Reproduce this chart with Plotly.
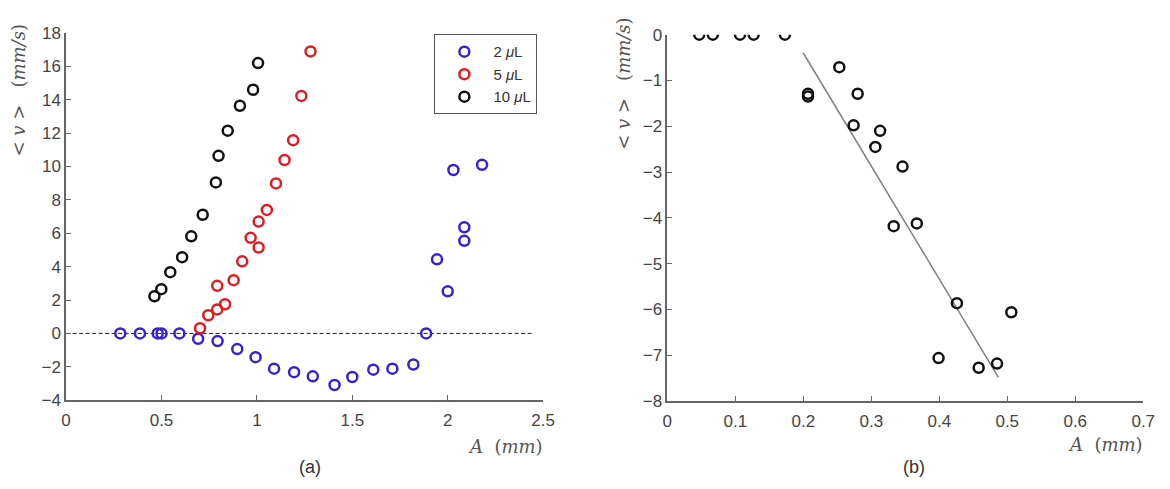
import plotly.graph_objects as go

# ---- Panel (a) data ----
a2_x = [0.284, 0.387, 0.48, 0.50, 0.594, 0.692, 0.794, 0.897, 0.993, 1.09, 1.195, 1.293,
        1.407, 1.50, 1.61, 1.71, 1.82, 1.887, 1.944, 2.0, 2.087, 2.087, 2.03, 2.18]
a2_y = [0, 0, 0, 0, 0, -0.32, -0.46, -0.94, -1.42, -2.11, -2.32, -2.57,
        -3.09, -2.61, -2.17, -2.11, -1.86, 0, 4.44, 2.52, 5.55, 6.36, 9.79, 10.1]

a5_x = [0.702, 0.745, 0.792, 0.792, 0.833, 0.878, 0.923, 0.967, 1.009, 1.009, 1.052,
        1.10, 1.145, 1.19, 1.233, 1.281]
a5_y = [0.31, 1.09, 1.44, 2.85, 1.75, 3.19, 4.32, 5.73, 5.15, 6.70, 7.40,
        8.99, 10.39, 11.58, 14.23, 16.9]

a10_x = [0.463, 0.499, 0.546, 0.608, 0.656, 0.716, 0.785, 0.799, 0.847, 0.911, 0.98, 1.006]
a10_y = [2.23, 2.65, 3.67, 4.57, 5.82, 7.11, 9.05, 10.64, 12.15, 13.64, 14.6, 16.2]

zero_x = [0, 2.45]
zero_y = [0, 0]

# ---- Panel (b) data ----
b_x = [0.047, 0.067, 0.107, 0.127, 0.173, 0.207, 0.207, 0.253, 0.28, 0.274, 0.313,
       0.306, 0.346, 0.333, 0.367, 0.426, 0.506, 0.399, 0.458, 0.485]
b_y = [0, 0, 0, 0, 0, -1.29, -1.35, -0.71, -1.29, -1.98, -2.10,
       -2.45, -2.88, -4.18, -4.12, -5.86, -6.06, -7.06, -7.27, -7.18]

fit_x = [0.2, 0.487]
fit_y = [-0.40, -7.48]

legend_names = ["2 <i>\u03bc</i>L", "5 <i>\u03bc</i>L", "10 <i>\u03bc</i>L"]
colors = ["#3a1fd6", "#e01b22", "#111111"]

fig = go.Figure()

def mk(color):
    return dict(symbol="circle-open", size=10, color=color, line=dict(width=2.5, color=color))

fig.add_trace(go.Scatter(x=zero_x, y=zero_y, mode="lines", showlegend=False,
                         line=dict(color="#222", width=1, dash="4px,2.5px"), xaxis="x", yaxis="y"))
fig.add_trace(go.Scatter(x=a2_x, y=a2_y, mode="markers", name=legend_names[0],
                         marker=mk(colors[0]), xaxis="x", yaxis="y"))
fig.add_trace(go.Scatter(x=a5_x, y=a5_y, mode="markers", name=legend_names[1],
                         marker=mk(colors[1]), xaxis="x", yaxis="y"))
fig.add_trace(go.Scatter(x=a10_x, y=a10_y, mode="markers", name=legend_names[2],
                         marker=mk(colors[2]), xaxis="x", yaxis="y"))

fig.add_trace(go.Scatter(x=fit_x, y=fit_y, mode="lines", showlegend=False,
                         line=dict(color="#808080", width=1.5), xaxis="x2", yaxis="y2"))
fig.add_trace(go.Scatter(x=b_x, y=b_y, mode="markers", showlegend=False,
                         marker=mk("#111111"), xaxis="x2", yaxis="y2"))

tickfont = dict(family="Liberation Sans, Arial, sans-serif", size=17, color="#444")
axcommon = dict(showgrid=False, zeroline=False, showline=True, linecolor="#666", linewidth=1.5,
                ticks="inside", ticklen=5, tickcolor="#666", tickwidth=1.2, tickfont=tickfont,
                mirror=False)

fig.update_layout(
    width=1170, height=489, margin=dict(l=0, r=0, t=0, b=0),
    paper_bgcolor="white", plot_bgcolor="white",
    xaxis=dict(domain=[0.053, 0.4667], range=[0, 2.5], dtick=0.5, anchor="y",
               ticklabelstandoff=4, **axcommon),
    yaxis=dict(domain=[0.1677, 0.9489], range=[-4, 18], dtick=2, anchor="x",
               ticklabelstandoff=0, **axcommon),
    xaxis2=dict(domain=[0.5744, 0.9872], range=[0, 0.7], dtick=0.1, anchor="y2",
                ticklabelstandoff=4, **axcommon),
    yaxis2=dict(domain=[0.1656, 0.9454], range=[-8, 0], dtick=1, anchor="x2",
                ticklabelstandoff=0, **axcommon),
    legend=dict(x=0.3724, y=0.946, xanchor="left", yanchor="top",
                bordercolor="#555", borderwidth=1, bgcolor="white",
                font=dict(family="Liberation Sans, Arial, sans-serif", size=15, color="#333"),
                itemwidth=48, tracegroupgap=0),
    showlegend=True,
)

title_font = dict(family="DejaVu Serif, Liberation Serif, serif", size=18, color="#555")
ylab = "&lt;&nbsp;<i>v</i>&nbsp;&gt;&nbsp;&nbsp;&nbsp;(<i>mm/s</i>)"
xlab = "<i>A</i>&nbsp;&nbsp;(<i>mm</i>)"
fig.add_annotation(text=ylab, x=14/1170, y=1-85/489, xref="paper", yref="paper",
                   xanchor="center", yanchor="middle",
                   textangle=-90, showarrow=False, font=title_font)
fig.add_annotation(text=ylab, x=628/1170, y=1-78/489, xref="paper", yref="paper",
                   xanchor="center", yanchor="middle",
                   textangle=-90, showarrow=False, font=title_font)
fig.add_annotation(text=xlab, x=508/1170, y=1-455/489, xref="paper", yref="paper",
                   xanchor="center", yanchor="middle", showarrow=False, font=title_font)
fig.add_annotation(text=xlab, x=1117/1170, y=1-453/489, xref="paper", yref="paper",
                   xanchor="center", yanchor="middle", showarrow=False, font=title_font)
lab_font = dict(family="Liberation Sans, Arial, sans-serif", size=18, color="#333")
fig.add_annotation(text="(a)", x=310/1170, y=1-477/489, xref="paper", yref="paper",
                   xanchor="center", yanchor="middle", showarrow=False, font=lab_font)
fig.add_annotation(text="(b)", x=922/1170, y=1-477/489, xref="paper", yref="paper",
                   xanchor="center", yanchor="middle", showarrow=False, font=lab_font)

fig.write_html("out.html")
